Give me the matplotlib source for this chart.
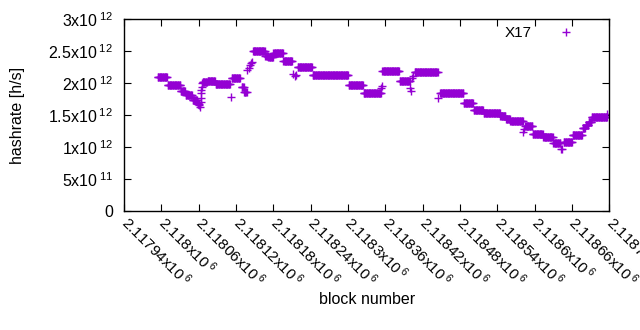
import numpy as np
import matplotlib
matplotlib.use("Agg")
import matplotlib.pyplot as plt

plt.rcParams['font.family'] = ['Liberation Sans', 'DejaVu Sans']
plt.rcParams['mathtext.fontset'] = 'custom'
plt.rcParams['mathtext.rm'] = 'Liberation Sans'
plt.rcParams['mathtext.it'] = 'Liberation Sans'

base_block = 2117940

# runs of equal hashrate: first block offset, last block offset, value [1e12 h/s]
seg_start = [54, 70, 91, 99, 110, 118, 126, 134, 147, 173, 189, 193,
             207, 227, 232, 240, 256, 279, 303, 361, 385, 415, 443, 467,
             508, 546, 562, 578, 605, 614, 621, 645, 657, 674, 690, 707,
             721, 737, 742, 747, 752]
seg_end = [69, 90, 98, 109, 117, 120, 133, 146, 170, 186, 192, 197,
           226, 231, 239, 255, 270, 302, 360, 384, 413, 442, 459, 504,
           545, 561, 577, 604, 613, 620, 641, 656, 673, 689, 701, 720,
           736, 741, 746, 751, 776]
seg_value = [2.09, 1.97, 1.87, 1.82, 1.74, 1.68, 2.02, 2.03, 1.98, 2.08, 1.94, 1.86,
             2.50, 2.43, 2.41, 2.47, 2.35, 2.26, 2.13, 1.97, 1.84, 2.19, 2.03, 2.17,
             1.84, 1.69, 1.58, 1.53, 1.48, 1.44, 1.41, 1.32, 1.21, 1.15, 1.06, 1.08,
             1.19, 1.30, 1.35, 1.39, 1.47]

# isolated blocks
single_block = [119, 121, 122, 123, 123, 124, 124, 125, 125, 171,
                198, 200, 202, 204, 205, 272, 274, 276, 413, 414,
                460, 461, 463, 465, 505, 642, 643, 703, 704, 776]
single_value = [1.69, 1.65, 1.63, 1.71, 1.76, 1.84, 1.89, 1.94, 2.00, 1.78,
                2.20, 2.24, 2.28, 2.31, 2.33, 2.14, 2.11, 2.12, 1.93, 1.96,
                1.92, 1.88, 2.08, 2.11, 1.76, 1.24, 1.28, 0.97, 0.965, 1.52]

xtick_labels = ["2.11794", "2.118", "2.11806", "2.11812", "2.11818", "2.11824",
                "2.1183", "2.11836", "2.11842", "2.11848", "2.11854", "2.1186",
                "2.11866", "2.11872"]
ytick_labels = ["0", "5x10$^{\\;11}$", "1x10$^{\\;12}$", "1.5x10$^{\\;12}$",
                "2x10$^{\\;12}$", "2.5x10$^{\\;12}$", "3x10$^{\\;12}$"]

blocks = []
rates = []
for s, e, v in zip(seg_start, seg_end, seg_value):
    for b in range(s, e + 1):
        blocks.append(base_block + b)
        rates.append(v * 1e12)
for b, v in zip(single_block, single_value):
    blocks.append(base_block + b)
    rates.append(v * 1e12)

fig = plt.figure(figsize=(6.4, 3.3), dpi=100)
ax = fig.add_axes([0.194, 0.3615, 0.758, 0.58])
ax.plot(blocks, rates, linestyle="none", marker="+", markersize=5.2,
        markeredgewidth=1.0, color="#9400d3", label="X17")

ax.set_xlim(base_block, base_block + 780)
ax.set_ylim(0, 3e12)
xt = [base_block + 60 * i for i in range(len(xtick_labels))]
ax.set_xticks(xt)
ax.set_xticklabels([l + "x10$^{\\;6}$" for l in xtick_labels], rotation=-45,
                   ha="left", va="center", rotation_mode="anchor", fontsize=11)
ax.set_yticks([i * 5e11 for i in range(7)])
ax.set_yticklabels(ytick_labels, fontsize=11.5)
ax.tick_params(direction="in", top=True, right=True, length=5, width=0.8)
ax.tick_params(axis="y", pad=8)
ax.tick_params(axis="x", pad=6)
for sp in ax.spines.values():
    sp.set_linewidth(1.0)

ax.set_xlabel("block number", fontsize=11.5, labelpad=2)
ax.set_ylabel("hashrate [h/s]", fontsize=11.5, labelpad=17)
ax.legend(loc="upper right", frameon=False, markerfirst=False, fontsize=11,
          handlelength=2.9, borderaxespad=0.3, bbox_to_anchor=(0.978, 1.02))

fig.savefig("out.png", dpi=100)
